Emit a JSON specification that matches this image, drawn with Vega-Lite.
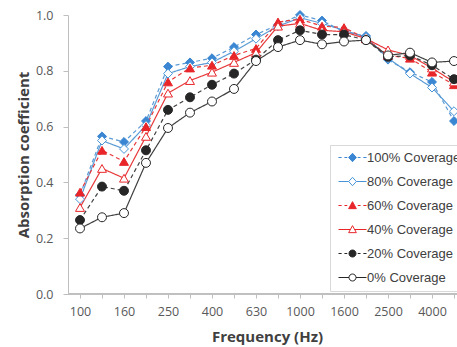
{
  "$schema": "https://vega.github.io/schema/vega-lite/v6.json",
  "autosize": "none",
  "width": 389,
  "height": 279,
  "padding": {"left": 68, "top": 15, "right": 0, "bottom": 53},
  "background": "white",
  "config": {"view": {"stroke": null}, "font": "Open Sans"},
  "data": {"values": [
    {"f":"100","s":"100% Coverage","v":0.355},{"f":"125","s":"100% Coverage","v":0.565},{"f":"160","s":"100% Coverage","v":0.545},{"f":"200","s":"100% Coverage","v":0.62},{"f":"250","s":"100% Coverage","v":0.815},{"f":"315","s":"100% Coverage","v":0.83},{"f":"400","s":"100% Coverage","v":0.845},{"f":"500","s":"100% Coverage","v":0.885},{"f":"630","s":"100% Coverage","v":0.93},{"f":"800","s":"100% Coverage","v":0.965},{"f":"1000","s":"100% Coverage","v":1.0},{"f":"1250","s":"100% Coverage","v":0.98},{"f":"1600","s":"100% Coverage","v":0.94},{"f":"2000","s":"100% Coverage","v":0.925},{"f":"2500","s":"100% Coverage","v":0.84},{"f":"3150","s":"100% Coverage","v":0.795},{"f":"4000","s":"100% Coverage","v":0.76},{"f":"5000","s":"100% Coverage","v":0.62},
    {"f":"100","s":"80% Coverage","v":0.34},{"f":"125","s":"80% Coverage","v":0.55},{"f":"160","s":"80% Coverage","v":0.52},{"f":"200","s":"80% Coverage","v":0.605},{"f":"250","s":"80% Coverage","v":0.79},{"f":"315","s":"80% Coverage","v":0.815},{"f":"400","s":"80% Coverage","v":0.83},{"f":"500","s":"80% Coverage","v":0.87},{"f":"630","s":"80% Coverage","v":0.915},{"f":"800","s":"80% Coverage","v":0.96},{"f":"1000","s":"80% Coverage","v":0.99},{"f":"1250","s":"80% Coverage","v":0.97},{"f":"1600","s":"80% Coverage","v":0.945},{"f":"2000","s":"80% Coverage","v":0.92},{"f":"2500","s":"80% Coverage","v":0.845},{"f":"3150","s":"80% Coverage","v":0.79},{"f":"4000","s":"80% Coverage","v":0.74},{"f":"5000","s":"80% Coverage","v":0.655},
    {"f":"100","s":"60% Coverage","v":0.365},{"f":"125","s":"60% Coverage","v":0.515},{"f":"160","s":"60% Coverage","v":0.475},{"f":"200","s":"60% Coverage","v":0.6},{"f":"250","s":"60% Coverage","v":0.76},{"f":"315","s":"60% Coverage","v":0.81},{"f":"400","s":"60% Coverage","v":0.82},{"f":"500","s":"60% Coverage","v":0.855},{"f":"630","s":"60% Coverage","v":0.88},{"f":"800","s":"60% Coverage","v":0.975},{"f":"1000","s":"60% Coverage","v":0.985},{"f":"1250","s":"60% Coverage","v":0.96},{"f":"1600","s":"60% Coverage","v":0.955},{"f":"2000","s":"60% Coverage","v":0.915},{"f":"2500","s":"60% Coverage","v":0.855},{"f":"3150","s":"60% Coverage","v":0.845},{"f":"4000","s":"60% Coverage","v":0.795},{"f":"5000","s":"60% Coverage","v":0.75},
    {"f":"100","s":"40% Coverage","v":0.31},{"f":"125","s":"40% Coverage","v":0.45},{"f":"160","s":"40% Coverage","v":0.415},{"f":"200","s":"40% Coverage","v":0.565},{"f":"250","s":"40% Coverage","v":0.72},{"f":"315","s":"40% Coverage","v":0.765},{"f":"400","s":"40% Coverage","v":0.795},{"f":"500","s":"40% Coverage","v":0.83},{"f":"630","s":"40% Coverage","v":0.865},{"f":"800","s":"40% Coverage","v":0.96},{"f":"1000","s":"40% Coverage","v":0.97},{"f":"1250","s":"40% Coverage","v":0.945},{"f":"1600","s":"40% Coverage","v":0.94},{"f":"2000","s":"40% Coverage","v":0.915},{"f":"2500","s":"40% Coverage","v":0.875},{"f":"3150","s":"40% Coverage","v":0.855},{"f":"4000","s":"40% Coverage","v":0.81},{"f":"5000","s":"40% Coverage","v":0.76},
    {"f":"100","s":"20% Coverage","v":0.265},{"f":"125","s":"20% Coverage","v":0.385},{"f":"160","s":"20% Coverage","v":0.37},{"f":"200","s":"20% Coverage","v":0.515},{"f":"250","s":"20% Coverage","v":0.66},{"f":"315","s":"20% Coverage","v":0.705},{"f":"400","s":"20% Coverage","v":0.75},{"f":"500","s":"20% Coverage","v":0.79},{"f":"630","s":"20% Coverage","v":0.84},{"f":"800","s":"20% Coverage","v":0.91},{"f":"1000","s":"20% Coverage","v":0.945},{"f":"1250","s":"20% Coverage","v":0.93},{"f":"1600","s":"20% Coverage","v":0.93},{"f":"2000","s":"20% Coverage","v":0.91},{"f":"2500","s":"20% Coverage","v":0.85},{"f":"3150","s":"20% Coverage","v":0.855},{"f":"4000","s":"20% Coverage","v":0.82},{"f":"5000","s":"20% Coverage","v":0.77},
    {"f":"100","s":"0% Coverage","v":0.235},{"f":"125","s":"0% Coverage","v":0.275},{"f":"160","s":"0% Coverage","v":0.29},{"f":"200","s":"0% Coverage","v":0.47},{"f":"250","s":"0% Coverage","v":0.595},{"f":"315","s":"0% Coverage","v":0.65},{"f":"400","s":"0% Coverage","v":0.69},{"f":"500","s":"0% Coverage","v":0.735},{"f":"630","s":"0% Coverage","v":0.835},{"f":"800","s":"0% Coverage","v":0.885},{"f":"1000","s":"0% Coverage","v":0.91},{"f":"1250","s":"0% Coverage","v":0.895},{"f":"1600","s":"0% Coverage","v":0.905},{"f":"2000","s":"0% Coverage","v":0.91},{"f":"2500","s":"0% Coverage","v":0.855},{"f":"3150","s":"0% Coverage","v":0.865},{"f":"4000","s":"0% Coverage","v":0.83},{"f":"5000","s":"0% Coverage","v":0.835}
  ]},
  "layer": [
    {
      "mark": {"type": "rule", "color": "#bfbfbf", "strokeWidth": 1},
      "encoding": {"y": {"datum": 0, "type": "quantitative", "scale": {"domain": [0, 1]}}}
    },
    {
      "mark": {"type": "line", "strokeWidth": 1.2},
      "encoding": {
        "x": {"field": "f", "type": "ordinal",
          "scale": {"type": "point", "domain": ["100","125","160","200","250","315","400","500","630","800","1000","1250","1600","2000","2500","3150","4000","5000"], "range": [12, 386], "padding": 0},
          "axis": {"title": "Frequency (Hz)", "titleFont": "Open Sans", "titleFontWeight": "bold", "titleFontSize": 15, "titleColor": "#404040", "titlePadding": 12,
            "labelFont": "Open Sans", "labelFontSize": 12.5, "labelColor": "#595959", "labelAngle": 0, "labelPadding": 7, "labelOverlap": false,
            "labelExpr": "indexof(['100','160','250','400','630','1000','1600','2500','4000'], datum.label) >= 0 ? datum.label : ''",
            "tickSize": 4, "tickColor": "#bfbfbf", "domain": false, "grid": false}},
        "y": {"field": "v", "type": "quantitative", "scale": {"domain": [0, 1]},
          "axis": {"title": "Absorption coefficient", "titleFont": "Open Sans", "titleFontWeight": "bold", "titleFontSize": 15, "titleColor": "#404040", "titlePadding": 4,
            "labelFont": "Open Sans", "labelFontSize": 12.5, "labelColor": "#595959", "labelPadding": 10, "format": ".1f",
            "values": [0, 0.2, 0.4, 0.6, 0.8, 1.0], "tickSize": 5, "tickColor": "#bfbfbf", "domainColor": "#bfbfbf", "gridColor": "#e3e3e3"}},
        "color": {"field": "s", "type": "nominal",
          "scale": {"domain": ["100% Coverage","80% Coverage","60% Coverage","40% Coverage","20% Coverage","0% Coverage"], "range": ["#5b9bd5","#5b9bd5","#e8393b","#e8393b","#404040","#404040"]}, "legend": null},
        "strokeDash": {"field": "s", "type": "nominal",
          "scale": {"domain": ["100% Coverage","80% Coverage","60% Coverage","40% Coverage","20% Coverage","0% Coverage"], "range": [[4,3],[1,0],[4,3],[1,0],[4,3],[1,0]]}, "legend": null}
      }
    },
    {
      "mark": {"type": "point", "filled": true, "opacity": 1, "size": 80, "strokeWidth": 1},
      "encoding": {
        "x": {"field": "f", "type": "ordinal"},
        "y": {"field": "v", "type": "quantitative"},
        "shape": {"field": "s", "type": "nominal",
          "scale": {"domain": ["100% Coverage","80% Coverage","60% Coverage","40% Coverage","20% Coverage","0% Coverage"], "range": ["diamond","diamond","triangle-up","triangle-up","circle","circle"]}, "legend": null},
        "fill": {"field": "s", "type": "nominal",
          "scale": {"domain": ["100% Coverage","80% Coverage","60% Coverage","40% Coverage","20% Coverage","0% Coverage"], "range": ["#3a86d2","#ffffff","#e8262a","#ffffff","#262626","#ffffff"]}, "legend": null},
        "stroke": {"field": "s", "type": "nominal",
          "scale": {"domain": ["100% Coverage","80% Coverage","60% Coverage","40% Coverage","20% Coverage","0% Coverage"], "range": ["#3a86d2","#4a95d8","#e8262a","#e8262a","#262626","#262626"]}, "legend": null}
      }
    },
    {
      "transform": [{"filter": "false"}],
      "mark": {"type": "point", "filled": true, "opacity": 1, "size": 49, "strokeWidth": 1},
      "encoding": {
        "shape": {"field": "s", "type": "nominal",
          "scale": {"domain": ["100% Coverage","80% Coverage","60% Coverage","40% Coverage","20% Coverage","0% Coverage"],
            "range": [
              "M-4,0H-3.1M-2.3,0H-1.5M1.5,0H2.3M3.1,0H4M0,-1.2L1.1,0L0,1.2L-1.1,0Z",
              "M-4,0H-1.1M1.1,0H4M0,-1.2L1.1,0L0,1.2L-1.1,0Z",
              "M-4,0H-3.1M-2.3,0H-1.5M1.5,0H2.3M3.1,0H4M0,-1.1L1.1,0.9L-1.1,0.9Z",
              "M-4,0H-0.6M0.6,0H4M0,-1.1L1.1,0.9L-1.1,0.9Z",
              "M-4,0H-3.1M-2.3,0H-1.5M1.5,0H2.3M3.1,0H4M-1,0A1,1,0,1,0,1,0A1,1,0,1,0,-1,0Z",
              "M-4,0H-1M1,0H4M-1,0A1,1,0,1,0,1,0A1,1,0,1,0,-1,0Z"
            ]},
          "legend": {"orient": "none", "legendX": 262, "legendY": 130, "title": null, "padding": 6, "fillColor": "white", "strokeColor": "#d9d9d9",
            "symbolSize": 49, "symbolOffset": 10, "labelOffset": 8, "rowPadding": 10, "symbolStrokeWidth": 1, "symbolOpacity": 1,
            "labelFont": "Liberation Sans", "labelFontSize": 13, "labelColor": "#404040", "labelLimit": 300}},
        "fill": {"field": "s", "type": "nominal",
          "scale": {"domain": ["100% Coverage","80% Coverage","60% Coverage","40% Coverage","20% Coverage","0% Coverage"], "range": ["#3a86d2","#ffffff","#e8262a","#ffffff","#262626","#ffffff"]},
          "legend": {"orient": "none", "legendX": 262, "legendY": 130, "title": null, "padding": 6, "fillColor": "white", "strokeColor": "#d9d9d9",
            "symbolSize": 49, "symbolOffset": 10, "labelOffset": 8, "rowPadding": 10, "symbolStrokeWidth": 1, "symbolOpacity": 1,
            "labelFont": "Liberation Sans", "labelFontSize": 13, "labelColor": "#404040", "labelLimit": 300}},
        "stroke": {"field": "s", "type": "nominal",
          "scale": {"domain": ["100% Coverage","80% Coverage","60% Coverage","40% Coverage","20% Coverage","0% Coverage"], "range": ["#3a86d2","#4a95d8","#e8262a","#e8262a","#262626","#262626"]},
          "legend": {"orient": "none", "legendX": 262, "legendY": 130, "title": null, "padding": 6, "fillColor": "white", "strokeColor": "#d9d9d9",
            "symbolSize": 49, "symbolOffset": 10, "labelOffset": 8, "rowPadding": 10, "symbolStrokeWidth": 1, "symbolOpacity": 1,
            "labelFont": "Liberation Sans", "labelFontSize": 13, "labelColor": "#404040", "labelLimit": 300}}
      }
    }
  ],
  "resolve": {"scale": {"shape": "independent", "fill": "independent", "stroke": "independent"}}
}
